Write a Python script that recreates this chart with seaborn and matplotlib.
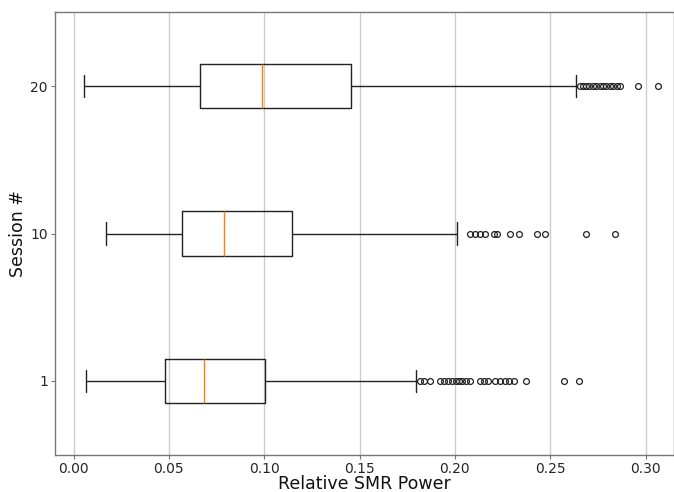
import numpy as np
import pandas as pd
import matplotlib
matplotlib.use("Agg")
import matplotlib.pyplot as plt
import seaborn as sns

# ---- data (top to bottom) ----
sessions = ["20", "10", "1"]
whisker_low = [0.0054, 0.0168, 0.0063]
q1 = [0.0663, 0.0570, 0.0479]
median = [0.0988, 0.0789, 0.0684]
q3 = [0.1453, 0.1147, 0.1006]
whisker_high = [0.2635, 0.2010, 0.1794]

outliers_20 = [0.2655, 0.2670, 0.2686, 0.2702, 0.2723, 0.2739, 0.2760, 0.2775,
               0.2791, 0.2812, 0.2828, 0.2849, 0.2865, 0.2959, 0.3064]
outliers_10 = [0.2078, 0.2104, 0.2130, 0.2156, 0.2204, 0.2219, 0.2288, 0.2335,
               0.2429, 0.2471, 0.2686, 0.2838]
outliers_1 = [0.1819, 0.1836, 0.1871, 0.1924, 0.1941, 0.1964, 0.1987, 0.2004,
              0.2022, 0.2039, 0.2057, 0.2081, 0.2134, 0.2151, 0.2174, 0.2209,
              0.2235, 0.2261, 0.2284, 0.2308, 0.2371, 0.2571, 0.2649]
outliers = [outliers_20, outliers_10, outliers_1]

xticks = [0.00, 0.05, 0.10, 0.15, 0.20, 0.25, 0.30]

# ---- sample table that reproduces the read box statistics ----
BLOCK = 100
rows = []
for s, lo, a, m, b, hi, out in zip(sessions, whisker_low, q1, median, q3,
                                   whisker_high, outliers):
    vals = [lo] + [a] * BLOCK + [m] * BLOCK + [b] * BLOCK + [hi] + list(out)
    rows.extend((s, v) for v in vals)
df = pd.DataFrame(rows, columns=["Session #", "Relative SMR Power"])

sns.set_style("white")
plt.rcParams["font.family"] = ["DejaVu Sans"]

fig, ax = plt.subplots(figsize=(6.74, 4.92), dpi=100)
fig.subplots_adjust(left=0.0823, right=0.9993, top=0.9746, bottom=0.0762)

sns.boxplot(
    data=df, x="Relative SMR Power", y="Session #", order=sessions,
    orient="h", width=0.3, fill=False, color="#222222", linecolor="#222222",
    linewidth=1.0, whis=1.5, ax=ax,
    medianprops={"color": "#ff7f0e", "linewidth": 1.0},
    flierprops={"marker": "o", "markersize": 4.2, "markerfacecolor": "none",
                "markeredgecolor": "#222222", "markeredgewidth": 0.9},
)

ax.set_xlim(-0.0095, 0.3147)
ax.set_ylim(2.5, -0.5)
ax.set_xticks(xticks)
ax.set_xticklabels([f"{t:.2f}" for t in xticks])
ax.grid(axis="x", color="#cccccc", linewidth=1.0)
ax.grid(axis="y", visible=False)
ax.set_axisbelow(True)

for sp in ax.spines.values():
    sp.set_visible(True)
    sp.set_color("#777777")
    sp.set_linewidth(1.0)

ax.tick_params(axis="both", which="major", length=3, width=0.8, pad=2.5,
               color="#777777", labelsize=10, labelcolor="#262626",
               bottom=True, left=True)
ax.set_xlabel("Relative SMR Power", fontsize=12.5, color="#111111",
              labelpad=-0.5)
ax.set_ylabel("Session #", fontsize=12.5, color="#111111", labelpad=2)

fig.savefig("out.png", dpi=100)
